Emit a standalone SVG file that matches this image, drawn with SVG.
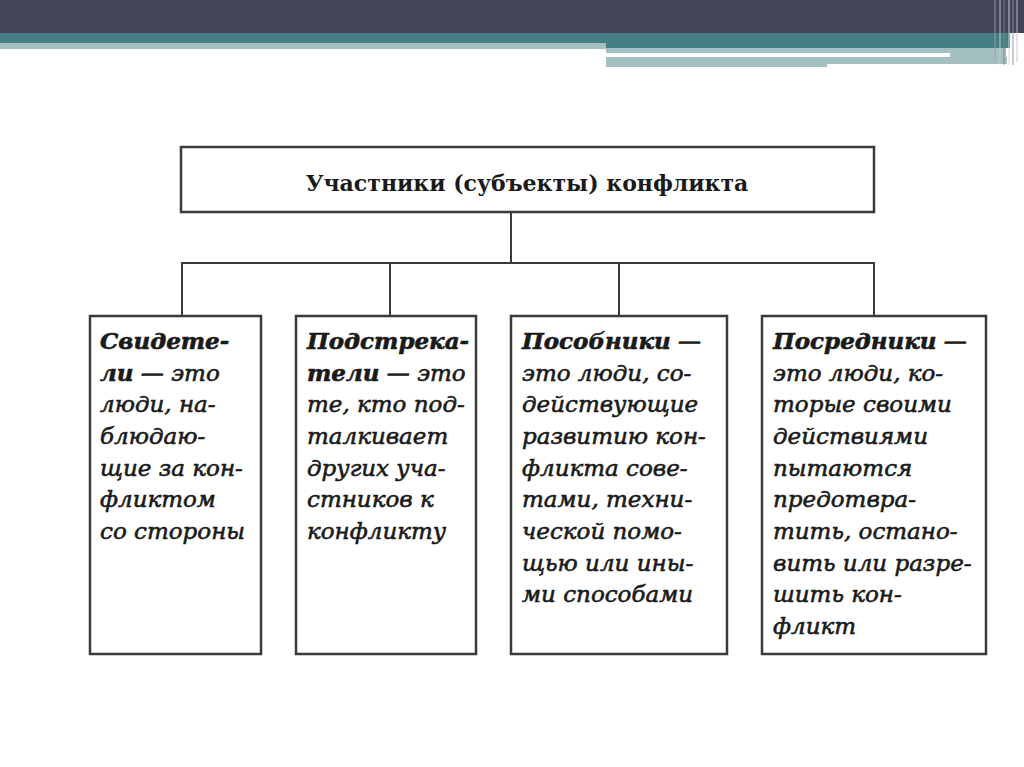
<svg xmlns="http://www.w3.org/2000/svg" width="1024" height="767" viewBox="0 0 1024 767">
<style>
.box{fill:#fff;stroke:#3a3a3a;stroke-width:2.5}
.con{stroke:#3a3a3a;stroke-width:2;fill:none}
.t{font-family:"DejaVu Serif","Liberation Serif",serif;font-size:23px;font-style:italic;fill:#1a1a1a;stroke:#1a1a1a;stroke-width:0.6}
.b{font-weight:bold}
.title{font-family:"DejaVu Serif","Liberation Serif",serif;font-size:22px;font-weight:bold;fill:#1a1a1a}
</style>
<rect width="1024" height="767" fill="#fff"/>
<g id="header">
<rect x="0" y="0" width="1024" height="33" fill="#434457"/>
<rect x="0" y="33" width="1010" height="10" fill="#467f83"/>
<rect x="0" y="43" width="606" height="6" fill="#a3bfc2"/>
<rect x="606" y="43" width="404" height="5" fill="#467f83"/>
<rect x="606" y="48" width="400" height="5" fill="#a3bfc2"/>
<rect x="606" y="53" width="344" height="4" fill="#fff"/>
<rect x="950" y="53" width="56" height="4" fill="#a3bfc2"/>
<rect x="606" y="57" width="221" height="10" fill="#a3bfc2"/>
<rect x="827" y="57" width="180" height="7" fill="#a3bfc2"/>
<g stroke-width="1.5" opacity="0.6">
<line x1="995" y1="0" x2="995" y2="62" stroke="#9aa0ad"/>
<line x1="1000" y1="0" x2="1000" y2="65" stroke="#c8ccd4"/>
<line x1="1004" y1="0" x2="1004" y2="65" stroke="#7d8290"/>
<line x1="1009" y1="0" x2="1009" y2="65" stroke="#d8dbe0"/>
<line x1="1013" y1="0" x2="1013" y2="65" stroke="#8a8f9c"/>
<line x1="1017" y1="0" x2="1017" y2="62" stroke="#c0c4cc"/>
</g>
</g>
<g id="connectors">
<line class="con" x1="511" y1="212" x2="511" y2="263"/>
<line class="con" x1="182" y1="263" x2="874" y2="263"/>
<line class="con" x1="182" y1="262" x2="182" y2="316"/>
<line class="con" x1="390" y1="262" x2="390" y2="316"/>
<line class="con" x1="619" y1="262" x2="619" y2="316"/>
<line class="con" x1="874" y1="262" x2="874" y2="316"/>
</g>
<g id="root">
<rect class="box" x="181" y="147" width="693" height="65"/>
<text class="title" x="527" y="191" text-anchor="middle">Участники (субъекты) конфликта</text>
</g>
<g id="witnesses">
<rect class="box" x="90" y="316" width="171" height="338"/>
<text class="t"><tspan x="100" y="349" class="b">Свидете-</tspan><tspan x="100" y="381"><tspan class="b">ли</tspan> — это</tspan><tspan x="100" y="412">люди, на-</tspan><tspan x="100" y="444">блюдаю-</tspan><tspan x="100" y="476">щие за кон-</tspan><tspan x="100" y="507">фликтом</tspan><tspan x="100" y="539">со стороны</tspan></text>
</g>
<g id="instigators">
<rect class="box" x="296" y="316" width="180" height="338"/>
<text class="t"><tspan x="307" y="349" class="b">Подстрека-</tspan><tspan x="307" y="381"><tspan class="b">тели</tspan> — это</tspan><tspan x="307" y="412">те, кто под-</tspan><tspan x="307" y="444">талкивает</tspan><tspan x="307" y="476">других уча-</tspan><tspan x="307" y="507">стников к</tspan><tspan x="307" y="539">конфликту</tspan></text>
</g>
<g id="accomplices">
<rect class="box" x="511" y="316" width="216" height="338"/>
<text class="t"><tspan x="522" y="349"><tspan class="b">Пособники</tspan> —</tspan><tspan x="522" y="381">это люди, со-</tspan><tspan x="522" y="412">действующие</tspan><tspan x="522" y="444">развитию кон-</tspan><tspan x="522" y="476">фликта сове-</tspan><tspan x="522" y="507">тами, техни-</tspan><tspan x="522" y="539">ческой помо-</tspan><tspan x="522" y="571">щью или ины-</tspan><tspan x="522" y="602">ми способами</tspan></text>
</g>
<g id="mediators">
<rect class="box" x="762" y="316" width="224" height="338"/>
<text class="t"><tspan x="773" y="349"><tspan class="b">Посредники</tspan> —</tspan><tspan x="773" y="381">это люди, ко-</tspan><tspan x="773" y="412">торые своими</tspan><tspan x="773" y="444">действиями</tspan><tspan x="773" y="476">пытаются</tspan><tspan x="773" y="507">предотвра-</tspan><tspan x="773" y="539">тить, остано-</tspan><tspan x="773" y="571">вить или разре-</tspan><tspan x="773" y="602">шить кон-</tspan><tspan x="773" y="634">фликт</tspan></text>
</g>
</svg>
